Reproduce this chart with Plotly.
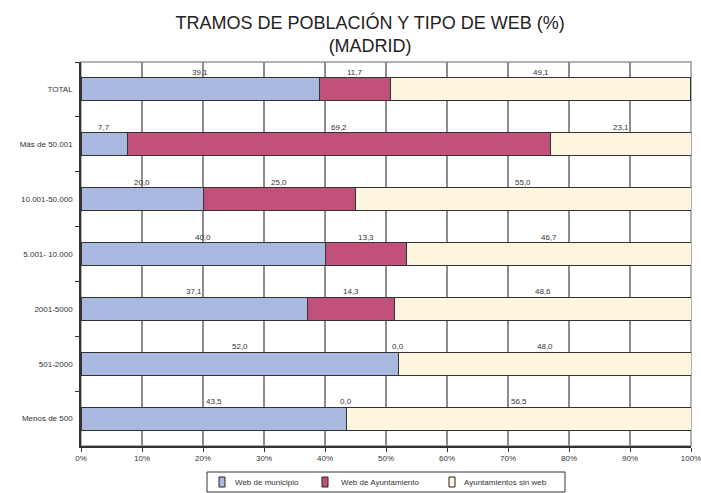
import plotly.graph_objects as go

categories = ["TOTAL", "Más de 50.001", "10.001-50.000", "5.001- 10.000",
              "2001-5000", "501-2000", "Menos de 500"]
web_municipio = [39.1, 7.7, 20.0, 40.0, 37.1, 52.0, 43.5]
web_ayuntamiento = [11.7, 69.2, 25.0, 13.3, 14.3, 0.0, 0.0]
sin_web = [49.1, 23.1, 55.0, 46.7, 48.6, 48.0, 56.5]
series_names = ["Web de municipio", "Web de Ayuntamiento", "Ayuntamientos sin web"]
colors = ["#aab9df", "#c1507a", "#fdf5de"]
x_ticks = list(range(0, 101, 10))

FONT = "Liberation Sans, Arial, sans-serif"
W, H = 701, 493
ML, MR, MT, MB = 81, 10, 62, 47
PW, PH = W - ML - MR, H - MT - MB


def px_x(x):
    return (x - ML) / PW


def px_y(y):
    return (H - MB - y) / PH


fig = go.Figure()
series = [web_municipio, web_ayuntamiento, sin_web]
for name, vals, col in zip(series_names, series, colors):
    fig.add_trace(go.Bar(
        y=categories, x=vals, name=name, orientation="h",
        marker=dict(color=col, line=dict(color="#333333", width=1)),
        width=0.42, showlegend=False,
    ))

# value labels above each segment
for i, cat in enumerate(categories):
    start = 0.0
    for vals in series:
        v = vals[i]
        fig.add_annotation(
            x=start + v / 2, y=cat, text=f"{v:.1f}".replace(".", ","),
            showarrow=False, yshift=17, font=dict(size=8, color="#333333", family=FONT),
        )
        start += v

# legend drawn as a box below the plot
fig.add_shape(type="rect", xref="paper", yref="paper",
              x0=px_x(207), x1=px_x(565), y0=px_y(492), y1=px_y(472),
              line=dict(color="#333333", width=1), fillcolor="white")
legend_sq = [222, 325, 452]
legend_tx = [233, 339, 462]
for name, col, sx, tx in zip(series_names, colors, legend_sq, legend_tx):
    fig.add_shape(type="rect", xref="paper", yref="paper",
                  x0=px_x(sx - 3), x1=px_x(sx + 3), y0=px_y(487), y1=px_y(477),
                  line=dict(color="#222222", width=1), fillcolor=col)
    fig.add_annotation(xref="paper", yref="paper", x=px_x(tx), y=px_y(482),
                       xanchor="left", yanchor="middle", text=name, showarrow=False,
                       font=dict(size=8, color="#333333", family=FONT))

fig.update_layout(
    barmode="stack",
    width=W, height=H,
    margin=dict(l=ML, r=MR, t=MT, b=MB, autoexpand=False),
    paper_bgcolor="white", plot_bgcolor="white",
    title=dict(text="TRAMOS DE POBLACIÓN Y TIPO DE WEB (%)<br>(MADRID)",
               xref="container", x=0.528, xanchor="center",
               yref="container", y=0.942, yanchor="middle",
               font=dict(size=18, color="#222222", family=FONT)),
    font=dict(family=FONT, size=8, color="#333333"),
    showlegend=False,
)
fig.update_xaxes(
    range=[0, 100], tickvals=x_ticks, ticktext=[f"{t}%" for t in x_ticks],
    showgrid=True, gridcolor="#8c8c8c", gridwidth=1.5,
    showline=True, linecolor="#333333", linewidth=1.5, mirror=False,
    ticks="outside", ticklen=4, tickcolor="#333333", ticklabeloverflow="allow",
    tickfont=dict(size=8), zeroline=False, automargin=False,
)
fig.update_yaxes(
    categoryorder="array", categoryarray=categories, autorange="reversed",
    showline=True, linecolor="#333333", linewidth=1.5,
    ticks="outside", ticklen=4, tickcolor="#333333", tickson="boundaries",
    ticklabelstandoff=5,
    tickfont=dict(size=8), showgrid=False, automargin=False,
)
# light gray frame on top/right of plot area
fig.add_shape(type="rect", xref="paper", yref="paper", x0=0, y0=0, x1=1, y1=1,
              line=dict(color="#999999", width=1.5), layer="below")

fig.write_html("out.html", config={"displayModeBar": False},
               post_script="document.body.style.margin='0';")
